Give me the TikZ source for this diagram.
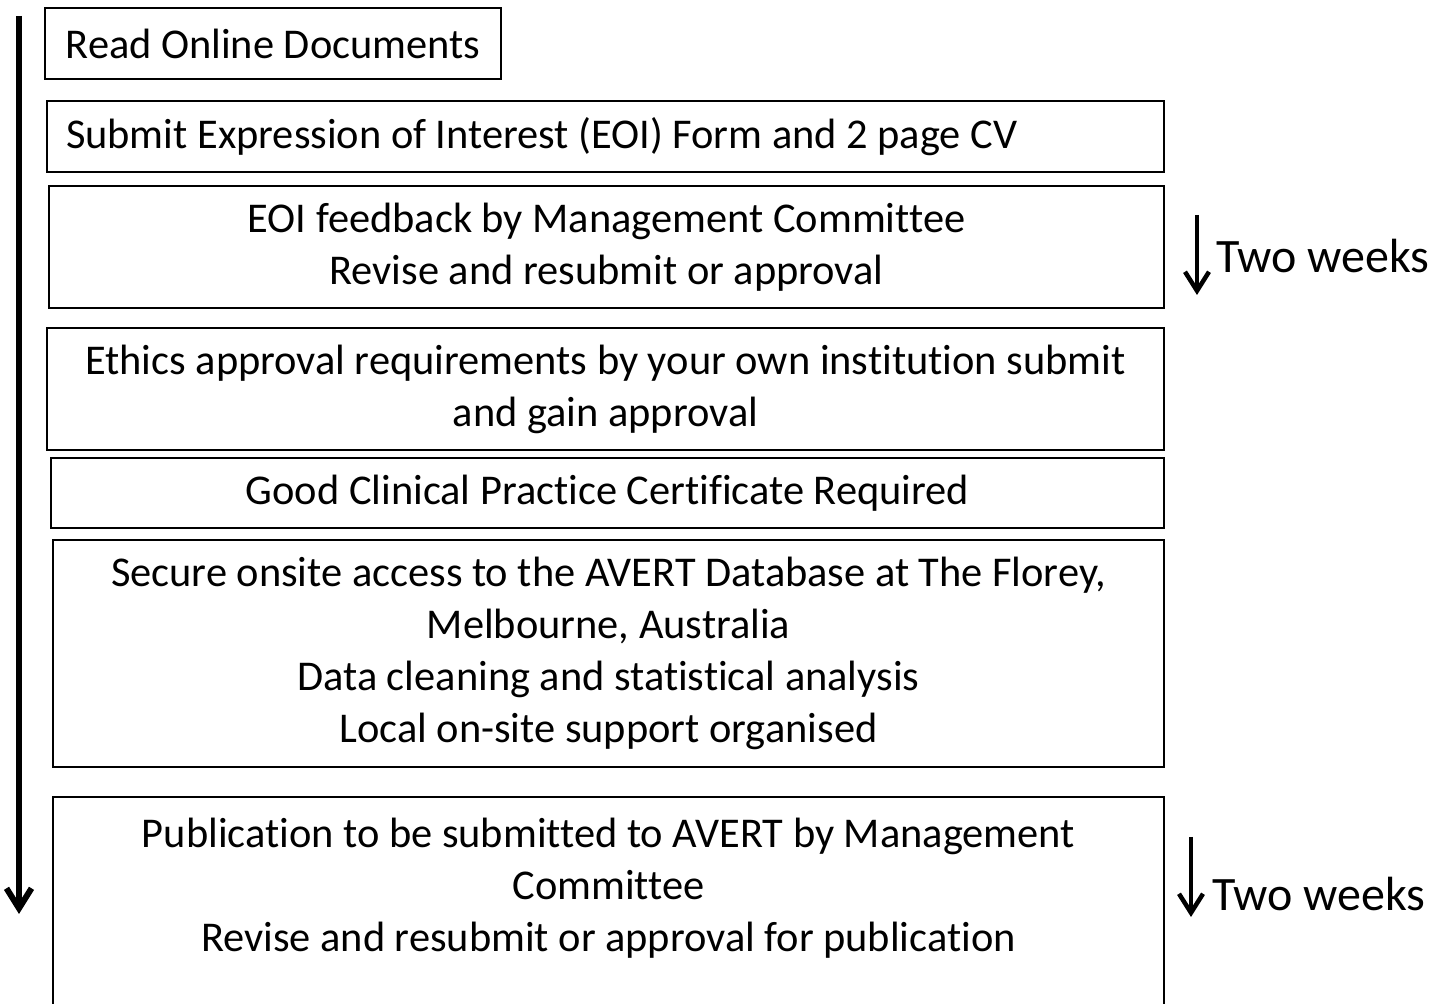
\documentclass[tikz,border=0pt]{standalone}
\usepackage{fontspec}
\setmainfont[Ligatures={NoCommon}]{Carlito}
\usetikzlibrary{arrows.meta}
\begin{document}
\begin{tikzpicture}[x=1pt,y=1pt,
  stepbox/.style={draw=black,line width=2pt,inner sep=0pt,align=center,
    font=\fontsize{42.4}{52}\selectfont},
  bigarrow/.style={line width=6pt,-{Straight Barb[length=20pt,width=25pt,line width=6pt]}},
  smallarrow/.style={line width=4.5pt,-{Straight Barb[length=19pt,width=24pt,line width=4.5pt]}},
  weeklabel/.style={inner sep=0pt,anchor=base west,font=\fontsize{48}{56}\selectfont}]
\useasboundingbox (0,0) rectangle (1446,1004);
\clip (0,0) rectangle (1446,1004);
\fill[white] (0,0) rectangle (1446,1004);
% boxes
\node[stepbox,minimum width=456pt,minimum height=71pt] (b1) at (273,960.5) {Read Online Documents};
\node[stepbox,minimum width=1117pt,minimum height=71pt,text width=1079pt,align=flush left,inner xsep=19pt] (b2) at (605.5,867.5) {Submit Expression of Interest (EOI) Form and 2 page CV};
\node[stepbox,minimum width=1115pt,minimum height=122pt] (b3) at (606.5,757) {EOI feedback by Management Committee\\Revise and resubmit or approval};
\node[stepbox,minimum width=1117pt,minimum height=122pt] (b4) at (605.5,615) {Ethics approval requirements by your own institution submit\\and gain approval};
\node[stepbox,minimum width=1113pt,minimum height=70pt] (b5) at (607.5,511) {Good Clinical Practice Certificate Required};
\node[stepbox,minimum width=1111pt,minimum height=227pt] (b6) at (608.5,350.5) {Secure onsite access to the AVERT Database at The Florey,\\Melbourne, Australia\\Data cleaning and statistical analysis\\Local on-site support organised};
\node[stepbox,minimum width=1111pt,minimum height=228pt] (b7) at (608.5,93) {Publication to be submitted to AVERT by Management\\Committee\\Revise and resubmit or approval for publication\\\mbox{}};
% timeline arrow
\coordinate (tTop) at (19,988);
\coordinate (tBot) at (19,90);
\draw[bigarrow] (tTop) -- (tBot);
% two-weeks arrows
\coordinate (a1Top) at (1197,789);
\coordinate (a1Bot) at (1197,709);
\draw[smallarrow] (a1Top) -- (a1Bot);
\node[weeklabel] (w1) at (1216,731) {Two weeks};
\coordinate (a2Top) at (1191,167);
\coordinate (a2Bot) at (1191,87);
\draw[smallarrow] (a2Top) -- (a2Bot);
\node[weeklabel] (w2) at (1212,93) {Two weeks};
\end{tikzpicture}
\end{document}
